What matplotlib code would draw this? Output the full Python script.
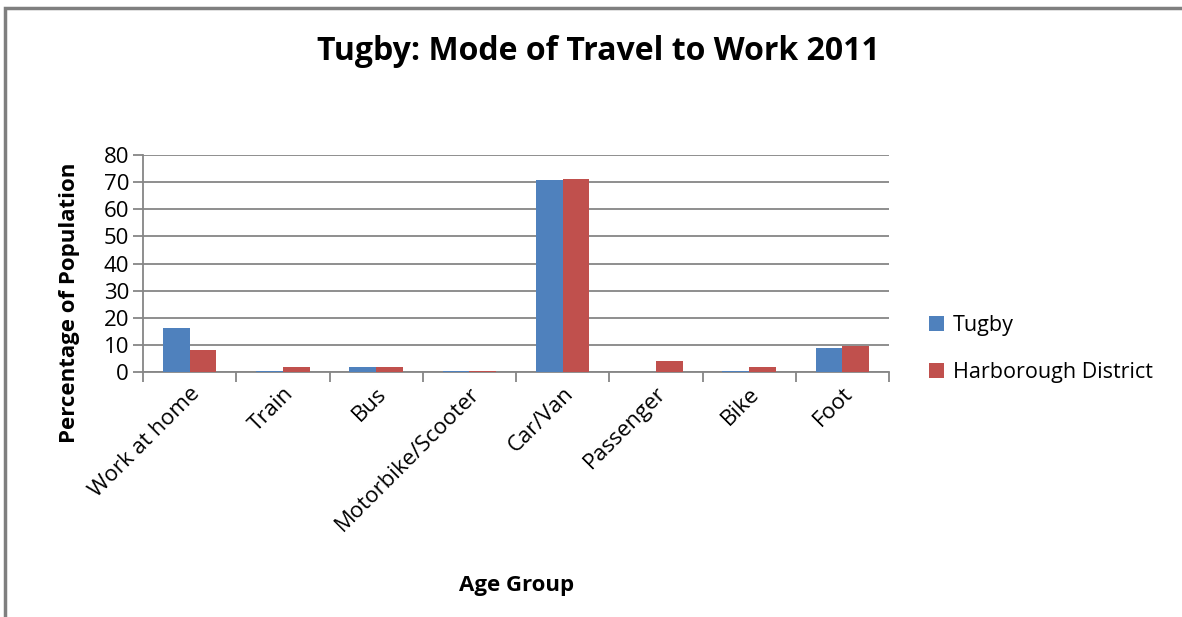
import matplotlib.pyplot as plt
import numpy as np
from matplotlib.patches import Rectangle

plt.rcParams['font.family'] = ['Open Sans', 'DejaVu Sans']

# data
modes = ['Work at home', 'Train', 'Bus', 'Motorbike/Scooter', 'Car/Van',
         'Passenger', 'Bike', 'Foot']
tugby = [16.3, 0.4, 1.8, 0.4, 70.8, 0.0, 0.4, 8.7]
harborough = [8.0, 1.8, 1.8, 0.4, 71.2, 4.0, 1.9, 9.7]

blue = '#4F81BD'
red = '#C0504D'
grey = '#868686'

fig = plt.figure(figsize=(11.82, 6.17), dpi=100)
ax = fig.add_axes([143 / 1182, 1 - 372 / 617, 746 / 1182, 217 / 617])

# outer chart frame (only top and left visible in the reference)
fig.patches.append(Rectangle((5 / 1182, -0.1), 1.2, 1 - 8 / 617 + 0.1,
                             transform=fig.transFigure, fill=False,
                             edgecolor='#7f7f7f', linewidth=2.5))

x = np.arange(len(modes))
w = 0.286
ax.bar(x - w / 2, tugby, w, color=blue, label='Tugby', zorder=3)
ax.bar(x + w / 2, harborough, w, color=red, label='Harborough District', zorder=3)

ax.set_xlim(-0.5, len(modes) - 0.5)
ax.set_ylim(0, 80)
ax.set_yticks(range(0, 81, 10))
ax.yaxis.grid(True, color=grey, linewidth=1.3, zorder=0)
ax.set_axisbelow(True)

# category boundary ticks
ax.set_xticks(np.arange(len(modes) + 1) - 0.5, minor=False)
ax.set_xticklabels([])
ax.set_xticks(x, minor=True)
ax.set_xticklabels(modes, minor=True, rotation=45, ha='right',
                   rotation_mode='anchor', fontsize=16)
ax.tick_params(axis='x', which='major', length=7, color=grey, width=1.3)
ax.tick_params(axis='x', which='minor', length=0, pad=8)
ax.tick_params(axis='y', length=7, color=grey, width=1.3, labelsize=16, pad=3)

for s in ['top', 'right']:
    ax.spines[s].set_visible(False)
for s in ['left', 'bottom']:
    ax.spines[s].set_color(grey)
    ax.spines[s].set_linewidth(1.3)

ax.set_ylabel('Percentage of Population', fontsize=16, fontweight='bold')
ax.yaxis.set_label_coords((80 - 143) / 746, (372 - 303) / 217)
fig.text(517 / 1182, 1 - 585 / 617, 'Age Group', fontsize=16, fontweight='bold',
         ha='center', va='center')
fig.text(598 / 1182, 1 - 52 / 617, 'Tugby: Mode of Travel to Work 2011',
         fontsize=23, fontweight='bold', ha='center', va='center')

ax.legend(loc='center left', bbox_to_anchor=(910 / 1182, 1 - 349 / 617),
          bbox_transform=fig.transFigure, frameon=False, fontsize=15.5,
          handlelength=0.7, handleheight=0.7, handletextpad=0.4,
          labelspacing=1.2)

fig.savefig('out.png', dpi=100)
